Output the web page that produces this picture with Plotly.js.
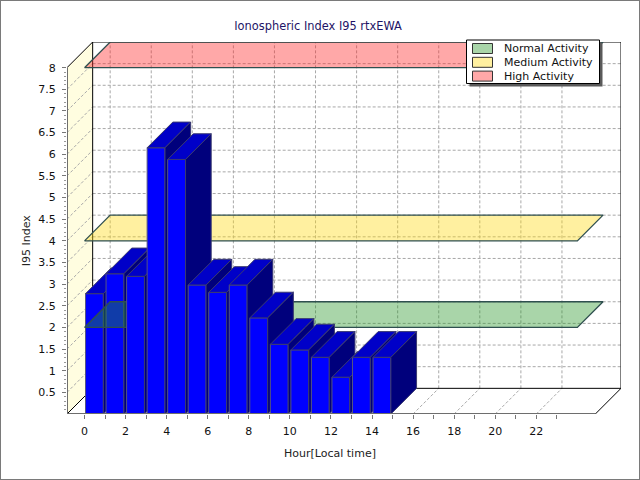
<!DOCTYPE html>
<html><head><meta charset="utf-8">
<script src="https://cdn.plot.ly/plotly-3.0.1.min.js"></script>
<style>
html,body{margin:0;padding:0;background:#fff}
#chart{width:640px;height:480px}
#frame{position:absolute;left:0;top:0;width:638px;height:478px;border:1px solid #7a7a7a;pointer-events:none}
</style>
</head><body>
<div id="chart"></div><div id="frame"></div>
<script>
// ---- data ----
const hours = [0,1,2,3,4,5,6,7,8,9,10,11,12,13,14];
const i95   = [2.78,3.24,3.18,6.15,5.88,2.98,2.81,2.98,2.22,1.61,1.48,1.31,0.85,1.31,1.31];
const xTickVals = [0,2,4,6,8,10,12,14,16,18,20,22];
const xTickText = ['0','2','4','6','8','10','12','14','16','18','20','22'];
const xMinorVals = [1,3,5,7,9,11,13,15,17,19,21,23];
const yTickVals = [0.5,1,1.5,2,2.5,3,3.5,4,4.5,5,5.5,6,6.5,7,7.5,8];
const yTickText = ['0.5','1','1.5','2','2.5','3','3.5','4','4.5','5','5.5','6','6.5','7','7.5','8'];
const bandNames  = ['Normal Activity','Medium Activity','High Activity'];
const bandLevels = [2,4,8];
const bandFrom   = [0,0,0];
const bandTo     = [24,24,24];
const bandFill   = ['rgba(40,150,40,0.40)','rgba(255,217,17,0.40)','rgba(255,38,38,0.40)'];

// ---- 3D projection constants (axis units) ----
const XL = -0.852, XR = 26.125, DX = 1.25, DY = 0.593, YMAX = 8;
const XF = XR - DX;            // front right edge of floor
const BW0 = 0.05, BW1 = 0.92;  // bar extent inside each hour slot

// plot area in pixels (for legend placement)
const ML = 67, MR = 19, MT = 42, MB = 66, W = 640, H = 480;
const px2x = p => (p - ML) / (W - ML - MR);
const px2y = p => (H - MB - p) / (H - MT - MB);

function poly(xs, ys, fill, line, lw){
  return {type:'scatter', mode:'lines', x:xs.concat([xs[0]]), y:ys.concat([ys[0]]),
    fill:'toself', fillcolor:fill, line:{color:line, width:lw}, hoverinfo:'skip', showlegend:false};
}
function barTraces(i){
  const a = hours[i]+BW0, b = hours[i]+BW1, v = i95[i];
  return [
    poly([a,b,b,a],[0,0,v,v],'#0000ff','#55557f',1),
    poly([a,b,b+DX,a+DX],[v,v,v+DY,v+DY],'#0000c8','#3a3a70',1),
    poly([b,b+DX,b+DX,b],[0,DY,v+DY,v],'#00007c','#3a3a70',1)
  ];
}
function bandTrace(k){
  const a = bandFrom[k], b = bandTo[k], v = bandLevels[k];
  const t = poly([a,b,b+DX,a+DX],[v,v,v+DY,v+DY],bandFill[k],'#2f4f4f',1.3);
  t.name = bandNames[k];
  return t;
}

const traces = [];
for (let i=0;i<2;i++) traces.push(...barTraces(i));
for (let k=0;k<bandNames.length;k++) traces.push(bandTrace(k));
for (let i=2;i<hours.length;i++) traces.push(...barTraces(i));

// ---- decoration shapes ----
const shapes = [];
const P = pts => 'M' + pts.map(p=>p[0]+','+p[1]).join(' L') + ' Z';
shapes.push({type:'path', layer:'below', path:P([[XL,0],[XL,YMAX],[XL+DX,YMAX+DY],[XL+DX,DY]]),
  fillcolor:'#fffde0', line:{width:0}});
const grid = {color:'#a8a8a8', width:1, dash:'3px,2px'};
yTickVals.forEach(v=>{ if (v<YMAX){
  shapes.push({type:'line', layer:'below', x0:XL+DX, x1:XR, y0:v+DY, y1:v+DY, line:grid});
  shapes.push({type:'line', layer:'below', x0:XL, x1:XL+DX, y0:v, y1:v+DY, line:grid});
}});
xTickVals.forEach(h=>{
  shapes.push({type:'line', layer:'below', x0:h+DX, x1:h+DX, y0:DY, y1:YMAX+DY, line:grid});
  shapes.push({type:'line', layer:'below', x0:h, x1:h+DX, y0:0, y1:DY, line:grid});
});
const blk = {color:'#000', width:1};
shapes.push({type:'path', layer:'below', path:P([[XL+DX,DY],[XL+DX,YMAX+DY],[XR,YMAX+DY],[XR,DY]]), line:blk});
shapes.push({type:'line', layer:'below', x0:XL, y0:YMAX, x1:XL+DX, y1:YMAX+DY, line:blk});
shapes.push({type:'line', layer:'below', x0:XL, y0:0, x1:XL+DX, y1:DY, line:blk});
shapes.push({type:'line', layer:'below', x0:XF, y0:0, x1:XR, y1:DY, line:blk});
const axl = {color:'#6e6e6e', width:2};
shapes.push({type:'line', layer:'above', x0:XL, y0:0, x1:XF, y1:0, line:axl});
shapes.push({type:'line', layer:'above', x0:XL, y0:0, x1:XL, y1:YMAX, line:axl});

// ---- custom legend (box, shadow, swatches, text) ----
const LG = {x0:466.5, x1:599.5, y0:40, y1:83.5, row0:48.5, rowH:13.8, swX0:472.5, swX1:492.5, txtX:501.5};
shapes.push({type:'rect', layer:'above', xref:'paper', yref:'paper',
  x0:px2x(LG.x0+3), x1:px2x(LG.x1+3), y0:px2y(LG.y1+3), y1:px2y(LG.y0+3), fillcolor:'#5a5a5a', line:{width:0}});
shapes.push({type:'rect', layer:'above', xref:'paper', yref:'paper',
  x0:px2x(LG.x0), x1:px2x(LG.x1), y0:px2y(LG.y1), y1:px2y(LG.y0), fillcolor:'#fff', line:{color:'#000', width:1}});
const annotations = [];
bandNames.forEach((n,k)=>{
  const c = LG.row0 + k*LG.rowH;
  shapes.push({type:'rect', layer:'above', xref:'paper', yref:'paper',
    x0:px2x(LG.swX0), x1:px2x(LG.swX1), y0:px2y(c+5), y1:px2y(c-5),
    fillcolor:bandFill[k], line:{color:'#333', width:1}});
  annotations.push({text:n, xref:'paper', yref:'paper', x:px2x(LG.txtX), y:px2y(c),
    xanchor:'left', yanchor:'middle', showarrow:false, font:{size:11, color:'#111'}});
});

const minorY = [];
for (let v=1; v<=80; v++) if (v%5) minorY.push(v/10);

const FONT = 'DejaVu Sans, Verdana, sans-serif';
annotations.push(
  {text:'Hour[Local time]', xref:'paper', yref:'paper', x:0.474, y:-0.107, xanchor:'center', yanchor:'middle',
    showarrow:false, font:{family:FONT, size:11, color:'#222'}},
  {text:'I95 Index', xref:'paper', yref:'paper', x:-0.074, y:0.467, xanchor:'center', yanchor:'middle',
    textangle:-90, showarrow:false, font:{family:FONT, size:11, color:'#222'}}
);
const layout = {
  width:W, height:H,
  margin:{l:ML, r:MR, t:MT, b:MB},
  paper_bgcolor:'#fff', plot_bgcolor:'rgba(0,0,0,0)',
  font:{family:FONT, size:11, color:'#111'},
  hovermode:false, showlegend:false,
  title:{text:'Ionospheric Index I95 rtxEWA', x:0.497, xref:'container', y:0.945, yref:'container',
    xanchor:'center', yanchor:'middle', font:{family:FONT, size:11.4, color:'#1e1466'}},
  xaxis:{range:[XL,XR], showgrid:false, zeroline:false, showline:false,
    tickmode:'array', tickvals:xTickVals, ticktext:xTickText, ticks:'outside', ticklen:4,
    tickcolor:'#777', tickwidth:1, ticklabelstandoff:3,
    minor:{tickvals:xMinorVals, ticks:'outside', ticklen:4, tickcolor:'#777', showgrid:false},
    fixedrange:true},
  yaxis:{range:[0,YMAX+DY], showgrid:false, zeroline:false, showline:false,
    tickmode:'array', tickvals:yTickVals, ticktext:yTickText, ticks:'outside', ticklen:4,
    tickcolor:'#777', tickwidth:1, ticklabelstandoff:4,
    minor:{tickvals:minorY, ticks:'outside', ticklen:2, tickcolor:'#999', showgrid:false},
    fixedrange:true},
  annotations:annotations,
  shapes:shapes
};
Plotly.newPlot('chart', traces, layout, {staticPlot:true, displayModeBar:false});
</script>
</body></html>
